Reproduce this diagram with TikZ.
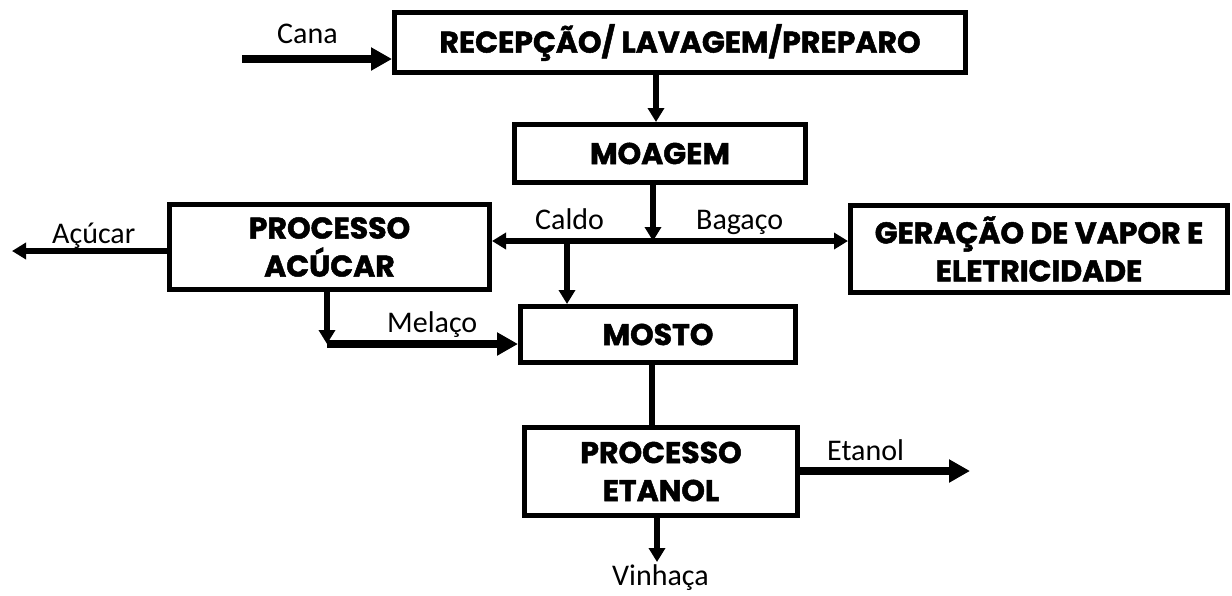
\documentclass[tikz,border=0pt]{standalone}
\usepackage{fontspec}
\setmainfont{Carlito}
\newfontfamily\boxfont{Poppins}[BoldFeatures={FakeBold=1.6}]
\usetikzlibrary{arrows.meta}
\begin{document}
\begin{tikzpicture}[x=1pt,y=-1pt,
  box/.style={draw, line width=5pt, font=\boxfont\bfseries\fontsize{30}{38}\selectfont, align=center, inner sep=0pt},
  lbl/.style={font=\fontsize{30}{36}\selectfont, inner sep=0pt, anchor=base west},
  arr/.style={line width=5.5pt, -{Triangle[length=14pt,width=16pt]}},
  thickarr/.style={line width=8pt, -{Triangle[length=21pt,width=22pt]}},
  plain/.style={line width=5.5pt}]
\useasboundingbox (0,0) rectangle (1232,595);
% boxes
\node[box, minimum width=571pt, minimum height=60pt] (rec) at (680,42.5) {RECEPÇÃO/ LAVAGEM/PREPARO};
\node[box, minimum width=291pt, minimum height=58pt] (moa) at (660,153.5) {MOAGEM};
\node[box, minimum width=320pt, minimum height=85pt] (pa) at (329.5,247) {PROCESSO\\ACÚCAR};
\node[box, minimum width=377pt, minimum height=87pt] (ger) at (1039,249) {GERAÇÃO DE VAPOR E\\ELETRICIDADE};
\node[box, minimum width=275pt, minimum height=56pt] (mos) at (658,334.5) {MOSTO};
\node[box, minimum width=273pt, minimum height=88pt] (pe) at (661,471.5) {PROCESSO\\ETANOL};
% helper coordinates
\coordinate (cs) at (242,59);
\coordinate (k1) at (656,0);
\coordinate (J) at (653,241);
\coordinate (C) at (567,241);
\coordinate (A) at (12,251);
\coordinate (M) at (327,344);
\coordinate (k2) at (652,0);
\coordinate (E) at (970,471);
\coordinate (V) at (657,562);
% connectors
\draw[thickarr] (cs) -- (cs -| rec.west);
\draw[arr] (k1 |- rec.south) -- (k1 |- moa.north);
\draw[arr] (J |- moa.south) -- (J);
\draw[arr] (J) -- (J -| pa.east);
\draw[arr] (J) -- (J -| ger.west);
\draw[arr] (C) -- (C |- mos.north);
\draw[arr, line width=6.5pt] (A -| pa.west) -- (A);
\draw[arr] (M |- pa.south) -- (M);
\draw[thickarr] (M) -- (M -| mos.west);
\draw[plain] (k2 |- mos.south) -- (k2 |- pe.north);
\draw[thickarr] (E -| pe.east) -- (E);
\draw[arr] (V |- pe.south) -- (V);
% labels
\node[lbl] (lcana) at (277,43) {Cana};
\node[lbl] (lacu) at (52,243) {Açúcar};
\node[lbl] (lcal) at (535,229) {Caldo};
\node[lbl] (lbag) at (696,229) {Bagaço};
\node[lbl] (lmel) at (387,332) {Melaço};
\node[lbl] (leta) at (827,460) {Etanol};
\node[lbl] (lvin) at (612,585) {Vinhaça};
\end{tikzpicture}
\end{document}
